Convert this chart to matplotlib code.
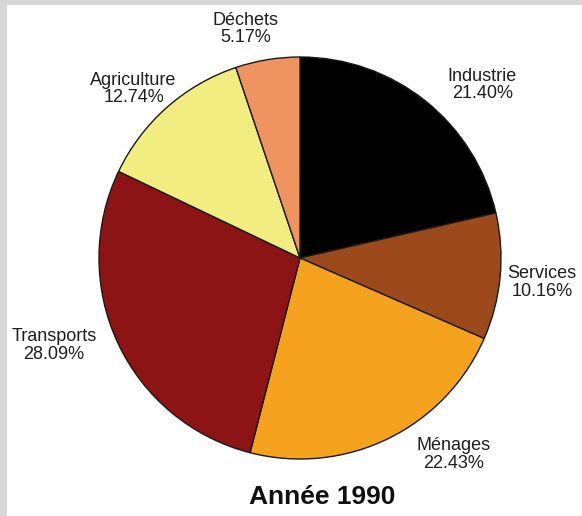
import numpy as np
import matplotlib.pyplot as plt
from matplotlib.patches import Rectangle

# emissions par secteur, 1990
secteurs = ['Industrie', 'Services', 'Ménages', 'Transports', 'Agriculture', 'Déchets']
parts = [21.40, 10.16, 22.43, 28.09, 12.74, 5.17]
couleurs = ['#000000', '#9c4a1c', '#f5a21f', '#8c1414', '#f2ed80', '#ef9460']
titre = 'Année 1990'

plt.rcParams['font.family'] = ['Liberation Sans', 'DejaVu Sans']

fig = plt.figure(figsize=(5.82, 5.16), dpi=100, facecolor='#d6d6d6')
# fond blanc, bord gris en haut et a gauche
fig.patches.append(Rectangle((7/582, 0), 1, 1 - 5/516, transform=fig.transFigure,
                             facecolor='white', edgecolor='none', zorder=-10))

ax = fig.add_axes([0, 0, 1, 1])
ax.set_facecolor('none')

labels = [f'{s}\n{p:.2f}%' for s, p in zip(secteurs, parts)]
wedges, texts = ax.pie(parts, colors=couleurs, startangle=90, counterclock=False,
                       labels=labels, labeldistance=1.2,
                       wedgeprops=dict(edgecolor='#1a1a1a', linewidth=1.0),
                       textprops=dict(fontsize=13, color='#1e1e1e', ha='center',
                                      linespacing=1.05))

# ajustement des etiquettes (distance, decalage angulaire en degres)
reglages = [(1.25, -8), (1.21, -0.5), (1.24, 12), (1.30, -5.5), (1.18, 3), (1.17, 4)]
for w, t, (d, da) in zip(wedges, texts, reglages):
    a = np.deg2rad((w.theta1 + w.theta2) / 2 + da)
    t.set_position((d * np.cos(a), d * np.sin(a)))

ax.set_xlim(-300/201, 282/201)
ax.set_ylim(-258/201, 258/201)
ax.set_aspect('auto')
ax.axis('off')

fig.text(322/582, 1 - 497/516, titre, ha='center', va='center',
         fontsize=19, fontweight='bold', color='#111111')

fig.savefig('out.png', dpi=100, facecolor=fig.get_facecolor())
